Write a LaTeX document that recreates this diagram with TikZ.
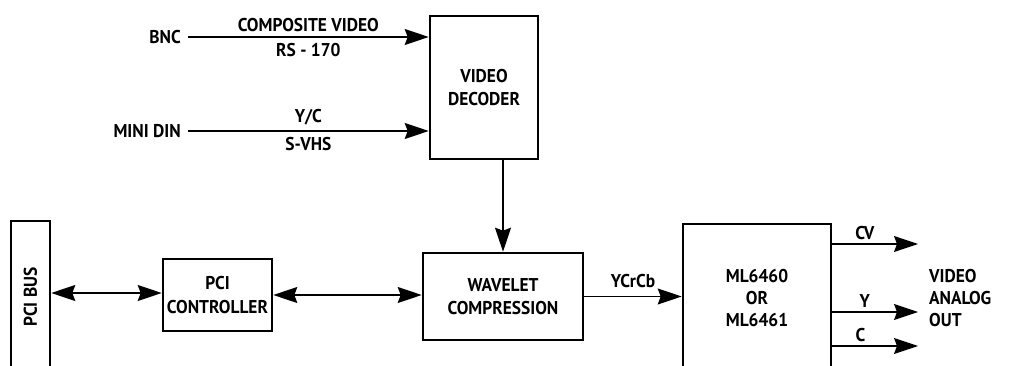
\documentclass[tikz,border=0pt]{standalone}
\usepackage{fontspec}
\setmainfont{PT Sans}[FakeStretch=0.94]
\usetikzlibrary{arrows.meta,calc}
\begin{document}
\begin{tikzpicture}[x=1pt,y=-1pt,
  lbl/.style={font=\bfseries\fontsize{18.5}{22}\selectfont, inner sep=0pt, align=center},
  blk/.style={draw, line width=2.6pt, inner sep=0pt, align=center, font=\bfseries\fontsize{18.5}{23.5}\selectfont},
  conn/.style={line width=1.4pt, -{Stealth[length=24pt,width=16pt,inset=3pt]}},
  bconn/.style={line width=1.4pt, {Stealth[length=24pt,width=16pt,inset=3pt]}-{Stealth[length=24pt,width=16pt,inset=3pt]}}
]
\useasboundingbox (0,0) rectangle (1011,366);
\clip (0,0) rectangle (1011,366);
% blocks
\node[blk, minimum width=39pt, minimum height=152pt] (pcibus) at (30.5,297) {};
\node[rotate=90, lbl] at (pcibus.center) {PCI BUS};
\node[blk, minimum width=109pt, minimum height=72pt] (pcictrl) at (217.5,295) {PCI\\CONTROLLER};
\node[blk, minimum width=160pt, minimum height=87pt] (wave) at (503,296.5) {WAVELET\\COMPRESSION};
\node[blk, minimum width=108pt, minimum height=143pt] (dec) at (484,87.5) {VIDEO\\DECODER};
\node[blk, minimum width=148pt, minimum height=148pt] (ml) at (757,298) {};
\node[lbl] (mltext) at (757,298) {ML6460\\OR\\ML6461};
% input labels
\node[lbl, anchor=east] (bnc) at (181,37) {BNC};
\node[lbl, anchor=east] (mini) at (181,131) {MINI DIN};
\draw[conn] (bnc.east) ++(7pt,0) coordinate (bncs) -- (bncs -| dec.west)
  node[lbl, midway, above=5pt] (cv1) {COMPOSITE VIDEO}
  node[lbl, midway, below=6pt] (rs) {RS - 170};
\draw[conn] (mini.east) ++(7pt,0) coordinate (minis) -- (minis -| dec.west)
  node[lbl, midway, above=5pt] (yc) {Y/C}
  node[lbl, midway, below=6pt] (svhs) {S-VHS};
% vertical
\draw[conn] (dec.south -| wave.north) -- (wave.north);
% bus arrows
\draw[bconn] (pcibus.east |- 0,293) -- (pcictrl.west |- 0,293);
\draw[bconn] (pcictrl.east) -- (wave.west |- pcictrl.east);
\draw[conn] (wave.east) -- (ml.west |- wave.east) node[lbl, midway, above=8pt] (ycrcb) {YCrCb};
% outputs
\coordinate (cvend) at (918,244);
\coordinate (yend) at (918,312);
\coordinate (cend) at (918,346);
\draw[conn] (ml.east |- cvend) -- (cvend) node[lbl, pos=0.38, above=4pt] (cvl) {CV};
\draw[conn] (ml.east |- yend) -- (yend) node[lbl, pos=0.38, above=4pt] (yl) {Y};
\draw[conn] (ml.east |- cend) -- (cend) node[lbl, pos=0.33, above=4pt] (cl) {C};
\node[lbl, align=left, anchor=west] (vao) at (929,298) {VIDEO\\ANALOG\\OUT};
\end{tikzpicture}
\end{document}
